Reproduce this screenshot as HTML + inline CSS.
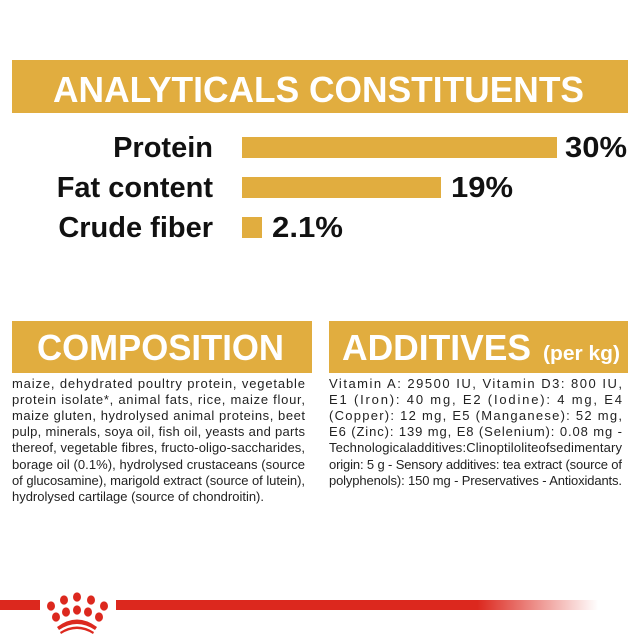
<!DOCTYPE html>
<html><head><style>html,body{margin:0;padding:0;background:#fff;}svg{display:block}</style></head>
<body>
<svg width="640" height="640" viewBox="0 0 640 640" xmlns="http://www.w3.org/2000/svg" font-family="Liberation Sans, sans-serif">
<defs>
<linearGradient id="fade" x1="0" x2="1" y1="0" y2="0">
<stop offset="0" stop-color="#dc281e"/><stop offset="0.75" stop-color="#dc281e"/><stop offset="1" stop-color="#dc281e" stop-opacity="0"/>
</linearGradient>
</defs>
<rect x="12" y="60" width="616" height="53" fill="#e1ad3f"/>
<text x="53" y="102" font-size="36" font-weight="bold" fill="#fff" textLength="531" lengthAdjust="spacingAndGlyphs">ANALYTICALS CONSTITUENTS</text>

<g font-weight="bold" font-size="29" fill="#111">
<text x="213" y="157" text-anchor="end">Protein</text>
<text x="213" y="197" text-anchor="end">Fat content</text>
<text x="213" y="237" text-anchor="end">Crude fiber</text>
<text x="565" y="157" textLength="62" lengthAdjust="spacingAndGlyphs">30%</text>
<text x="451" y="197" textLength="62" lengthAdjust="spacingAndGlyphs">19%</text>
<text x="272" y="237" textLength="71" lengthAdjust="spacingAndGlyphs">2.1%</text>
</g>
<rect x="242" y="137" width="315" height="21" fill="#e1ad3f"/>
<rect x="242" y="177" width="199" height="21" fill="#e1ad3f"/>
<rect x="242" y="217" width="20" height="21" fill="#e1ad3f"/>

<rect x="12" y="321" width="300" height="52" fill="#e1ad3f"/>
<rect x="329" y="321" width="299" height="52" fill="#e1ad3f"/>
<text x="37" y="360" font-size="36" font-weight="bold" fill="#fff" textLength="247" lengthAdjust="spacingAndGlyphs">COMPOSITION</text>
<text x="342" y="360" font-size="36" font-weight="bold" fill="#fff" textLength="189" lengthAdjust="spacingAndGlyphs">ADDITIVES</text>
<text x="543" y="360" font-size="20" font-weight="bold" fill="#fff" textLength="77" lengthAdjust="spacingAndGlyphs">(per kg)</text>

<g font-size="13" fill="#222" lengthAdjust="spacingAndGlyphs">
<text x="12" y="388" textLength="293">maize, dehydrated poultry protein, vegetable</text>
<text x="12" y="404" textLength="293">protein isolate*, animal fats, rice, maize flour,</text>
<text x="12" y="420" textLength="293">maize gluten, hydrolysed animal proteins, beet</text>
<text x="12" y="436" textLength="293">pulp, minerals, soya oil, fish oil, yeasts and parts</text>
<text x="12" y="452" textLength="293">thereof, vegetable fibres, fructo-oligo-saccharides,</text>
<text x="12" y="469" textLength="293">borage oil (0.1%), hydrolysed crustaceans (source</text>
<text x="12" y="485" textLength="293">of glucosamine), marigold extract (source of lutein),</text>
<text x="12" y="501" textLength="252">hydrolysed cartilage (source of chondroitin).</text>

<text x="329" y="388" textLength="293">Vitamin A: 29500 IU, Vitamin D3: 800 IU,</text>
<text x="329" y="404" textLength="293">E1 (Iron): 40 mg, E2 (Iodine): 4 mg, E4</text>
<text x="329" y="420" textLength="293">(Copper): 12 mg, E5 (Manganese): 52 mg,</text>
<text x="329" y="436" textLength="293">E6 (Zinc): 139 mg, E8 (Selenium): 0.08 mg -</text>
<text x="329" y="452" textLength="293">Technologicaladditives:Clinoptiloliteofsedimentary</text>
<text x="329" y="469" textLength="293">origin: 5 g - Sensory additives: tea extract (source of</text>
<text x="329" y="485" textLength="293">polyphenols): 150 mg - Preservatives - Antioxidants.</text>
</g>

<rect x="0" y="600" width="40" height="10" fill="#dc281e"/>
<rect x="116" y="600" width="482" height="10" fill="url(#fade)"/>
<g fill="#dc281e">
<ellipse cx="51" cy="606" rx="4" ry="4.6"/>
<ellipse cx="64" cy="600" rx="4" ry="4.6"/>
<ellipse cx="77" cy="597" rx="4" ry="4.6"/>
<ellipse cx="91" cy="600" rx="4" ry="4.6"/>
<ellipse cx="104" cy="606" rx="4" ry="4.6"/>
<ellipse cx="56" cy="617" rx="4" ry="4.6"/>
<ellipse cx="66" cy="612" rx="4" ry="4.6"/>
<ellipse cx="77" cy="610" rx="4" ry="4.6"/>
<ellipse cx="88" cy="612" rx="4" ry="4.6"/>
<ellipse cx="99" cy="617" rx="4" ry="4.6"/>
<path d="M57 627 Q77 612 97 627 L95 630 Q77 618 59 630 Z"/>
<path d="M60 632 Q77 621 94 632 L93 634 Q77 624 61 634 Z"/>
</g>
</svg>
</body></html>
